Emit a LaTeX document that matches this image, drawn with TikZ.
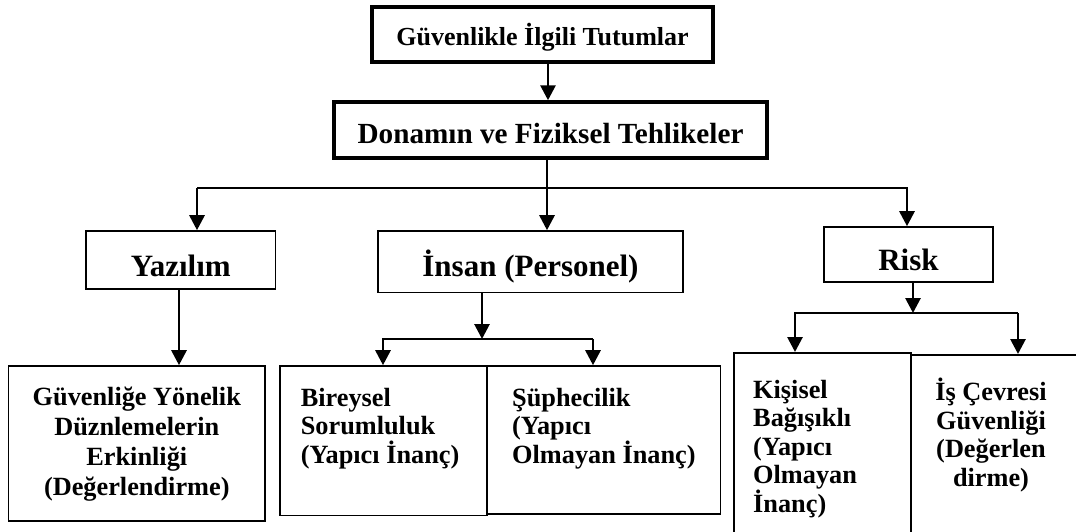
\documentclass[tikz,border=0pt]{standalone}
\usepackage{fontspec}
\setmainfont{Liberation Serif}
\usetikzlibrary{arrows.meta}
\begin{document}
\begin{tikzpicture}[x=1pt,y=-1pt,
  thickbox/.style={draw, line width=3.5pt, inner sep=0pt, text depth=0pt},
  thinbox/.style={draw, line width=1.6pt, inner sep=0pt, text depth=0pt},
  title/.style={font=\fontsize{26}{30}\selectfont\bfseries},
  subtitle/.style={font=\fontsize{29.2}{33}\selectfont\bfseries},
  branch/.style={font=\fontsize{31}{35}\selectfont\bfseries},
  cell/.style={font=\fontsize{26.3}{28.5}\selectfont\bfseries, inner sep=0pt},
  widecell/.style={font=\fontsize{26.3}{30}\selectfont\bfseries, inner sep=0pt},
  wire/.style={line width=2.8pt},
  thinwire/.style={line width=2pt},
  arr/.style={wire, -{Triangle[width=15pt,length=15pt]}}
]
\useasboundingbox (0,0) rectangle (1076,531);
\begin{scope}
\clip (0,0) rectangle (1076,531);

% upper level
\node[thickbox, minimum width=341pt, minimum height=55pt, text height=21pt, title] (top) at (542.5,34.5) {Güvenlikle İlgili Tutumlar};
\node[thickbox, minimum width=433pt, minimum height=56pt, text height=26pt, subtitle] (hw) at (550.5,130) {Donamın ve Fiziksel Tehlikeler};

% middle level
\node[thinbox, minimum width=189.5pt, minimum height=58pt, text height=32pt, branch] (yaz) at (180.75,260) {Yazılım};
\node[thinbox, minimum width=305pt, minimum height=61.6pt, text height=29pt, branch] (ins) at (530.5,261.8) {İnsan (Personel)};
\node[thinbox, minimum width=169pt, minimum height=55pt, text height=31pt, branch] (risk) at (908.5,254.5) {Risk};

% lower level boxes
\node[thinbox, minimum width=256.4pt, minimum height=155pt] (b1) at (136.8,443.5) {};
\node[thinbox, minimum width=207pt, minimum height=149.6pt] (b2) at (383.5,440.8) {};
\node[thinbox, minimum width=233.5pt, minimum height=148pt] (b3) at (603.75,440) {};
\node[thinbox, minimum width=177pt, minimum height=200pt, anchor=north west] (b4) at (733,352) {};
\node[thinbox, minimum width=190pt, minimum height=200pt, anchor=north west] (b5) at (910,354) {};

% texts of the lower boxes
\node[widecell, align=center, anchor=north] (t1) at (136.8,384) {\strut Güvenliğe Yönelik\\Düznlemelerin\\Erkinliği\\(Değerlendirme)};
\node[cell, align=left, anchor=north west] (t2) at (300.6,386) {\strut Bireysel\\Sorumluluk\\(Yapıcı İnanç)};
\node[cell, align=left, anchor=north west] (t3) at (512,386) {\strut Şüphecilik\\(Yapıcı\\Olmayan İnanç)};
\node[cell, align=left, anchor=north west] (t4) at (753,378) {\strut Kişisel\\Bağışıklı\\(Yapıcı\\Olmayan\\İnanç)};
\node[cell, align=center, anchor=north] (t5) at (991,378) {\strut İş Çevresi\\Güvenliği\\(Değerlen\\dirme)};

% connectors between the upper levels
\coordinate (stem) at (548,0);
\draw[arr] (stem |- top.south) -- (stem |- hw.north);
\coordinate (busL) at (197,188);
\coordinate (busR) at (907,188);
\coordinate (busM) at (547,188);
\draw[thinwire] (busM |- hw.south) -- (busM);
\draw[arr] (busM) -- (busM |- ins.north);
\draw[arr] (busL) -- (busL |- yaz.north);
\draw[arr] (busL) -- (busR) -- (busR |- risk.north);

% Yazılım branch
\coordinate (yazJ) at (179,0);
\draw[arr] (yazJ |- yaz.south) -- (yazJ |- b1.north);

% İnsan branch
\coordinate (insJ) at (482,339);
\coordinate (insL) at (383,339);
\coordinate (insR) at (593,339);
\draw[arr] (insJ |- ins.south) -- (insJ);
\draw[arr] (insR) -- (insL) -- (insL |- b2.north);
\draw[arr] (insR) -- (insR |- b3.north);

% Risk branch
\coordinate (riskJ) at (913,313);
\coordinate (riskL) at (795,313);
\coordinate (riskR) at (1018,313);
\draw[arr] (riskJ |- risk.south) -- (riskJ);
\draw[arr] (riskR) -- (riskL) -- (riskL |- b4.north);
\draw[arr] (riskR) -- (riskR |- b5.north);
\end{scope}
\end{tikzpicture}
\end{document}
